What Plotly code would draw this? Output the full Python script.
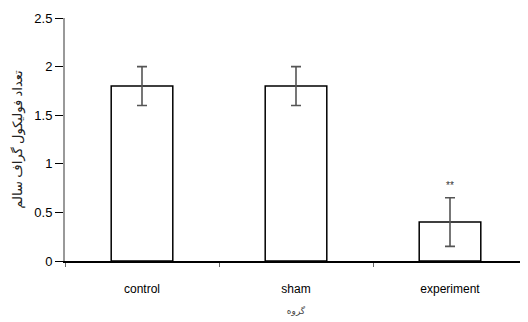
import plotly.graph_objects as go

categories = ["control", "sham", "experiment"]
values = [1.8, 1.8, 0.4]
errors = [0.2, 0.2, 0.25]
sig_labels = ["", "", "**"]
y_ticks = [0, 0.5, 1, 1.5, 2, 2.5]
y_title = "تعداد فولیکول گراف سالم"
x_title = "گروه"

fig = go.Figure()
fig.add_trace(go.Bar(
    x=categories, y=values,
    width=0.4,
    marker=dict(color="white", line=dict(color="black", width=1.5)),
    error_y=dict(type="data", array=errors, visible=True, color="#555555", thickness=1.6, width=5),
))

for c, v, e, s in zip(categories, values, errors, sig_labels):
    if s:
        fig.add_annotation(x=c, y=v + e, text=s, showarrow=False, yshift=12,
                           font=dict(size=10, color="#333333"))

# page body has an 8px default margin, so the figure is sized to fit the window
fig.update_layout(
    width=520, height=314,
    margin=dict(l=57, r=1, t=10, b=61),
    paper_bgcolor="white", plot_bgcolor="white",
    font=dict(family="Liberation Sans, Arial, sans-serif", size=12, color="black"),
    showlegend=False,
)
fig.update_xaxes(
    type="category", automargin=False,
    showline=True, linecolor="black", linewidth=2,
    ticks="outside", tickson="boundaries", ticklen=4, tickcolor="#666666",
    ticklabelstandoff=16,
    showgrid=False,
    tickfont=dict(size=12),
    title=dict(text=x_title, font=dict(size=9, family="Noto Sans, DejaVu Sans", color="#444444"), standoff=12),
)
fig.update_yaxes(
    range=[0, 2.5], automargin=False,
    tickvals=y_ticks, ticktext=[f"{t:g}" for t in y_ticks],
    showline=True, linecolor="#999999", linewidth=2,
    ticks="outside", ticklen=8, tickcolor="black",
    showgrid=False, zeroline=False,
    tickfont=dict(size=13),
    title=dict(text=y_title, font=dict(size=13, family="Noto Sans, DejaVu Sans", color="#222222"), standoff=10),
)

fig.write_html("out.html")
